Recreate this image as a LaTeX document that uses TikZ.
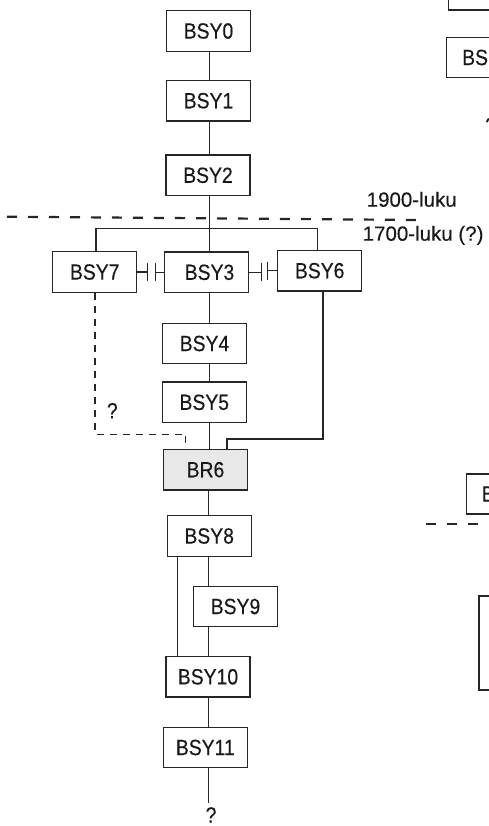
\documentclass[tikz,border=0pt]{standalone}
\usepackage{fontspec}
\setmainfont{Liberation Sans}
\newfontfamily\narrowfont[FakeStretch=0.88,FakeBold=0.25]{Liberation Sans}
\newfontfamily\lblfont[FakeBold=0.2]{Liberation Sans}
\usetikzlibrary{calc}
\definecolor{linec}{gray}{0.15}
\definecolor{textc}{gray}{0.1}
\definecolor{shade}{gray}{0.91}
\begin{document}
\begin{tikzpicture}[x=1pt,y=-1pt,
  box/.style={draw=linec, line width=1.2pt, minimum width=84pt, minimum height=40.5pt,
    inner sep=0pt, font=\narrowfont\fontsize{22}{24}\selectfont, text=textc},
  conn/.style={draw=linec, line width=1.2pt},
  bracketline/.style={draw=linec, line width=1.5pt},
  thickline/.style={draw=linec, line width=2pt},
  dashline/.style={draw=linec, line width=1.4pt, dash pattern=on 7pt off 6pt},
  divider/.style={draw=linec, line width=2.2pt, dash pattern=on 10pt off 11pt},
  lbl/.style={font=\lblfont\fontsize{20.5}{22}\selectfont, text=textc, inner sep=0pt},
  qm/.style={font=\narrowfont\fontsize{22}{24}\selectfont, text=textc, inner sep=0pt}]
\useasboundingbox (0,0) rectangle (489,826);
\clip (0,0) rectangle (489,826);

% boxes
\node[box] (BSY0) at (208.5,31) {BSY0};
\node[box] (BSY1) at (208.5,100.7) {BSY1};
\node[box] (BSY2) at (208,175.3) {BSY2};
\node[box] (BSY7) at (94.7,272) {BSY7};
\node[box] (BSY3) at (206.5,272.3) {\hspace{6pt}\raisebox{-2pt}{BSY3}};
\node[box] (BSY6) at (319.7,270.7) {BSY6};
\node[box] (BSY4) at (204.5,343.5) {BSY4};
\node[box] (BSY5) at (204.3,402.3) {BSY5};
\node[box, fill=shade] (BR6) at (205.5,469.7) {BR6};
\node[box] (BSY8) at (209.2,536) {BSY8};
\node[box] (BSY9) at (235.5,606.5) {BSY9};
\node[box] (BSY10) at (208,676.8) {BSY10};
\node[box] (BSY11) at (205.3,747.5) {BSY11};

% labels
\node[lbl, anchor=base west] (l1900) at (366.5,206.7) {1900-luku};
\node[lbl, anchor=base west] (l1700) at (362.5,240.7) {1700-luku (?)};
\node[qm, anchor=base] (q1) at (112.3,418.3) {?};
\node[qm, anchor=base] (q2) at (211,822.5) {?};

% divider
\coordinate (divL) at (7,216.7);
\coordinate (divR) at (417,220);
\draw[divider] (divL) -- (divR);

% spine connectors
\coordinate (sp) at (209.3,0);
\coordinate (sq) at (208.3,0);
\draw[conn] (BSY0.south -| sp) -- (BSY1.north -| sp);
\draw[conn] (BSY1.south -| sp) -- (BSY2.north -| sp);
\draw[conn] (BSY2.south -| sp) -- (BSY3.north -| sp);
\draw[conn] (BSY3.south -| sp) -- (BSY4.north -| sp);
\draw[conn] (BSY4.south -| sp) -- (BSY5.north -| sp);
\draw[conn] (BSY5.south -| sp) -- (BR6.north -| sp);
\draw[conn] (BR6.south -| sq) -- (BSY8.north -| sq);
\draw[conn] (BSY8.south -| sq) -- (BSY9.north -| sq);
\draw[conn] (BSY9.south -| sq) -- (BSY10.north -| sq);
\draw[conn] (BSY10.south -| sq) -- (BSY11.north -| sq);
\coordinate (endq) at (208.3,803.3);
\draw[conn] (BSY11.south -| sq) -- (endq);
\coordinate (lft) at (177.7,0);
\draw[conn] (BSY8.south -| lft) -- (BSY10.north -| lft);

% bracket
\coordinate (brL) at (96,228.3);
\coordinate (brR) at (317.3,228.3);
\draw[bracketline] (BSY7.north -| brL) -- (brL) -- (brR) -- (BSY6.north -| brR);

% ties
\draw[conn] (BSY7.east) -- ++(10,0) ++(0,-9) -- ++(0,18);
\draw[conn] (BSY3.west) -- ++(-8.7,0) ++(0,-9) -- ++(0,18);
\draw[conn] (BSY3.east) -- ++(12.4,0) ++(0,-9) -- ++(0,18);
\draw[conn] (BSY6.west) -- ++(-10,0) ++(0,-9) -- ++(0,18);

% dashed from BSY7
\coordinate (dL) at (95,434.3);
\coordinate (dR) at (185.7,434.3);
\draw[dashline] (BSY7.south -| dL) -- (dL) -- (dR) -- (BR6.north -| dR);

% thick from BSY6
\coordinate (tR) at (322.7,439);
\coordinate (tL) at (226.8,439);
\draw[thickline] (BSY6.south -| tR) -- (tR) -- (tL) -- (BR6.north -| tL);

% fragments of a neighbouring diagram at the right edge
\draw[conn] (448.3,-10) rectangle (540,10);
\draw[conn] (446.7,37.7) rectangle (540,77.3);
\node[qm, anchor=west] (fragBS) at (462,57.5) {BS};
\node[qm, anchor=base west] (fragQ) at (485,133) {?};
\draw[conn] (466.7,474) rectangle (560,514);
\node[qm, anchor=west] (fragB) at (481.5,494) {B};
\draw[divider] (426,524) -- (540,524);
\draw[thickline] (479,596) rectangle (560,690);
\end{tikzpicture}
\end{document}
